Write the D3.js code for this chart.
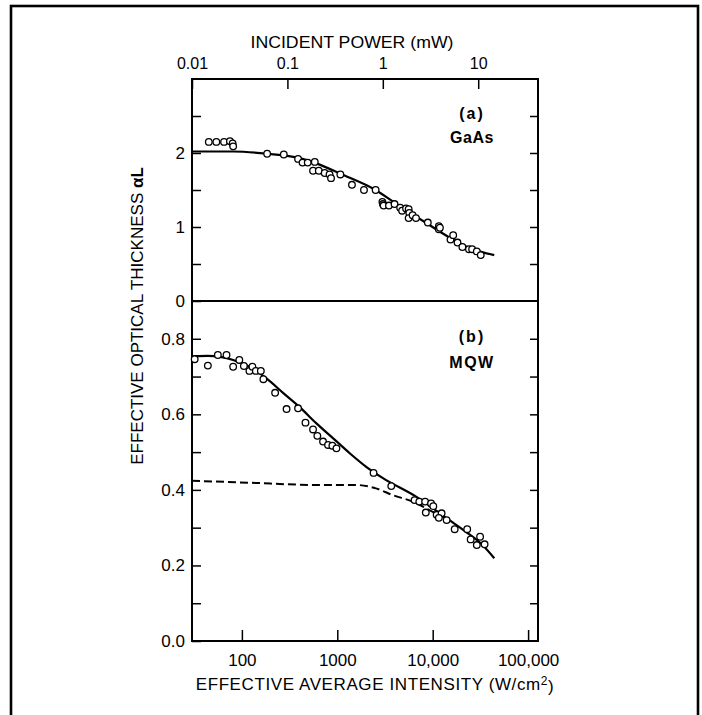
<!DOCTYPE html>
<html>
<head>
<meta charset="utf-8">
<script src="https://cdn.jsdelivr.net/npm/d3@7"></script>
<style>
  body { margin:0; background:#fff; }
  text { font-family: "Liberation Sans", Arial, Helvetica, sans-serif; fill:#000; }
</style>
</head>
<body>
<svg id="svg" width="702" height="715"></svg>
<script>
// GaAs (a): measured points and fit, [intensity W/cm2, alphaL]
var gaasPts = [[45,2.15],[54,2.15],[65,2.15],[75,2.16],[80,2.13],[81,2.09],
  [184,1.99],[275,1.98],[388,1.92],[432,1.87],[490,1.87],[581,1.88],
  [557,1.76],[640,1.76],[738,1.73],[830,1.71],[860,1.66],[1077,1.71],
  [1425,1.57],[1904,1.50],[2523,1.50],
  [2970,1.34],[3010,1.31],[3060,1.29],[3480,1.29],[3980,1.31],[4560,1.26],[4780,1.22],
  [5260,1.25],[5600,1.24],[5690,1.19],[5600,1.12],[6160,1.16],[6680,1.12],
  [8890,1.06],[11600,1.01],[11600,0.97],[11900,0.99],
  [15370,0.83],[16400,0.89],[18200,0.79],[20480,0.73],[24000,0.70],[25900,0.70],[29000,0.67],[31900,0.62]];
var gaasFit = [[30,2.02],[81,2.02],[184,1.99],[404,1.93],[604,1.86],[1077,1.72],[2523,1.50],
  [3980,1.33],[8890,1.04],[15370,0.85],[24000,0.72],[44200,0.62]];

// MQW (b)
var mqwPts = [[32,0.746],[44,0.729],[56,0.757],[69,0.757],[81,0.726],[94,0.744],[105,0.728],
  [120,0.715],[129,0.726],[140,0.715],[158,0.715],[168,0.693],[223,0.657],[294,0.614],[388,0.616],
  [464,0.578],[557,0.560],[618,0.543],[709,0.528],[800,0.519],[888,0.517],[980,0.510],
  [2400,0.445],[3680,0.410],[6450,0.373],[7240,0.369],[8330,0.369],[9620,0.364],[10150,0.357],
  [8470,0.340],[11000,0.334],[12400,0.338],[11600,0.326],[14000,0.320],[17000,0.296],[23000,0.296],
  [25000,0.269],[29000,0.254],[31400,0.276],[35000,0.256]];
var mqwFit = [[31,0.754],[44,0.755],[81,0.744],[120,0.726],[181,0.695],[270,0.657],[404,0.619],
  [604,0.576],[900,0.537],[1350,0.497],[2010,0.461],[3010,0.431],[6690,0.382],[14950,0.320],
  [22300,0.289],[33300,0.254],[44200,0.219]];
var mqwDash = [[30,0.424],[120,0.419],[604,0.413],[1580,0.413],[2540,0.404],[3830,0.386],
  [6160,0.369],[10000,0.342],[14950,0.320]];

var xTicks = [100,1000,10000,100000];
var powerTicks = [0.01,0.1,1,10];
var powerLabels = ["0.01","0.1","1","10"];
var aTicks = [0,0.5,1,1.5,2,2.5];
var bTicks = [0,0.1,0.2,0.3,0.4,0.5,0.6,0.7,0.8];
var mWtoI = 3000;

var L=192, R=538, T=79, M=301, B=641;

var svg = d3.select("#svg");

svg.append("rect")
  .attr("x",11).attr("y",6).attr("width",687).attr("height",730)
  .attr("fill","none").attr("stroke","#000").attr("stroke-width",2.6);

var x = d3.scaleLog().domain([30,127000]).range([L,R]);
var xp = d3.scaleLog().domain(x.domain().map(d=>d/mWtoI)).range([L,R]);
var ya = d3.scaleLinear().domain([0,3]).range([M,T]);
var yb = d3.scaleLinear().domain([0,0.9]).range([B,M]);

function clean(g){ g.select(".domain").remove(); g.selectAll(".tick line").attr("stroke-width",1.5); }

// top axis (incident power)
svg.append("g").attr("transform",`translate(0,${T})`)
  .call(d3.axisTop(xp).tickValues(powerTicks).tickSize(-10).tickPadding(10)
    .tickFormat((d,i)=>powerLabels[i]))
  .call(clean)
  .selectAll("text").style("font-size","16px");

// bottom axis
svg.append("g").attr("transform",`translate(0,${B})`)
  .call(d3.axisBottom(x).tickValues(xTicks).tickSize(-11).tickPadding(13)
    .tickFormat(d=>d>=10000? d3.format(",")(d) : d))
  .call(clean)
  .selectAll("text").style("font-size","17px");

// left/right axes
svg.append("g").attr("transform",`translate(${L},0)`)
  .call(d3.axisLeft(ya).tickValues(aTicks).tickSize(-9).tickPadding(7)
    .tickFormat(d=>Number.isInteger(d)? d : ""))
  .call(clean)
  .selectAll("text").style("font-size","17px");
svg.append("g").attr("transform",`translate(${R},0)`)
  .call(d3.axisRight(ya).tickValues(aTicks.slice(1)).tickSize(-8).tickFormat(""))
  .call(clean);

svg.append("g").attr("transform",`translate(${L},0)`)
  .call(d3.axisLeft(yb).tickValues(bTicks).tickSize(-9).tickPadding(7)
    .tickFormat(d=>Math.round(d*10)%2===0? d3.format(".1f")(d) : ""))
  .call(clean)
  .selectAll("text").style("font-size","17px");
svg.append("g").attr("transform",`translate(${R},0)`)
  .call(d3.axisRight(yb).tickValues(bTicks.slice(1)).tickSize(-8).tickFormat(""))
  .call(clean);

// box + divider
svg.append("rect")
  .attr("x",L).attr("y",T).attr("width",R-L).attr("height",B-T)
  .attr("fill","none").attr("stroke","#000").attr("stroke-width",2);
svg.append("line")
  .attr("x1",L).attr("x2",R).attr("y1",ya(0)).attr("y2",ya(0))
  .attr("stroke","#000").attr("stroke-width",2);

// curves
var lineA = d3.line().x(d=>x(d[0])).y(d=>ya(d[1])).curve(d3.curveMonotoneX);
var lineB = d3.line().x(d=>x(d[0])).y(d=>yb(d[1])).curve(d3.curveMonotoneX);

svg.append("path").attr("d",lineA(gaasFit))
  .attr("fill","none").attr("stroke","#000").attr("stroke-width",2.2);
svg.append("path").attr("d",lineB(mqwFit))
  .attr("fill","none").attr("stroke","#000").attr("stroke-width",2.2);
svg.append("path").attr("d",lineB(mqwDash))
  .attr("fill","none").attr("stroke","#000").attr("stroke-width",2)
  .attr("stroke-dasharray","8,4");

svg.append("g").selectAll("circle")
  .data(gaasPts).enter().append("circle")
  .attr("cx",d=>x(d[0])).attr("cy",d=>ya(d[1])).attr("r",3.3)
  .attr("fill","#fff").attr("stroke","#000").attr("stroke-width",1.3);
svg.append("g").selectAll("circle")
  .data(mqwPts).enter().append("circle")
  .attr("cx",d=>x(d[0])).attr("cy",d=>yb(d[1])).attr("r",3.3)
  .attr("fill","#fff").attr("stroke","#000").attr("stroke-width",1.3);

// panel labels
var plab = [["(a)",113,2],["GaAs",137,0.5],["(b)",336,2],["MQW",362,1.5]];
svg.selectAll(".plab").data(plab).enter().append("text")
  .attr("class","plab")
  .attr("x",472).attr("y",d=>d[1]).attr("dy","0.35em")
  .attr("text-anchor","middle")
  .style("font-size","16px").style("font-weight",700)
  .style("letter-spacing",d=>d[2]+"px")
  .text(d=>d[0]);

// titles
svg.append("text")
  .attr("x",352).attr("y",42).attr("dy","0.35em").attr("text-anchor","middle")
  .attr("textLength",203).attr("lengthAdjust","spacingAndGlyphs")
  .style("font-size","17px")
  .text("INCIDENT POWER (mW)");

var bt = svg.append("text")
  .attr("x",375).attr("y",684).attr("dy","0.35em").attr("text-anchor","middle")
  .style("font-size","17px").style("letter-spacing","0.6px");
bt.append("tspan").text("EFFECTIVE AVERAGE INTENSITY (W/cm");
bt.append("tspan").attr("dy","-0.45em").style("font-size","12px").text("2");
bt.append("tspan").attr("dy","0.45em").text(")");

var yl = svg.append("text")
  .attr("transform","translate(137,316) rotate(-90)")
  .attr("dy","0.35em").attr("text-anchor","middle")
  .style("font-size","17px");
yl.append("tspan").text("EFFECTIVE OPTICAL THICKNESS ");
yl.append("tspan").style("font-weight",700).text("αL");
</script>
</body>
</html>
